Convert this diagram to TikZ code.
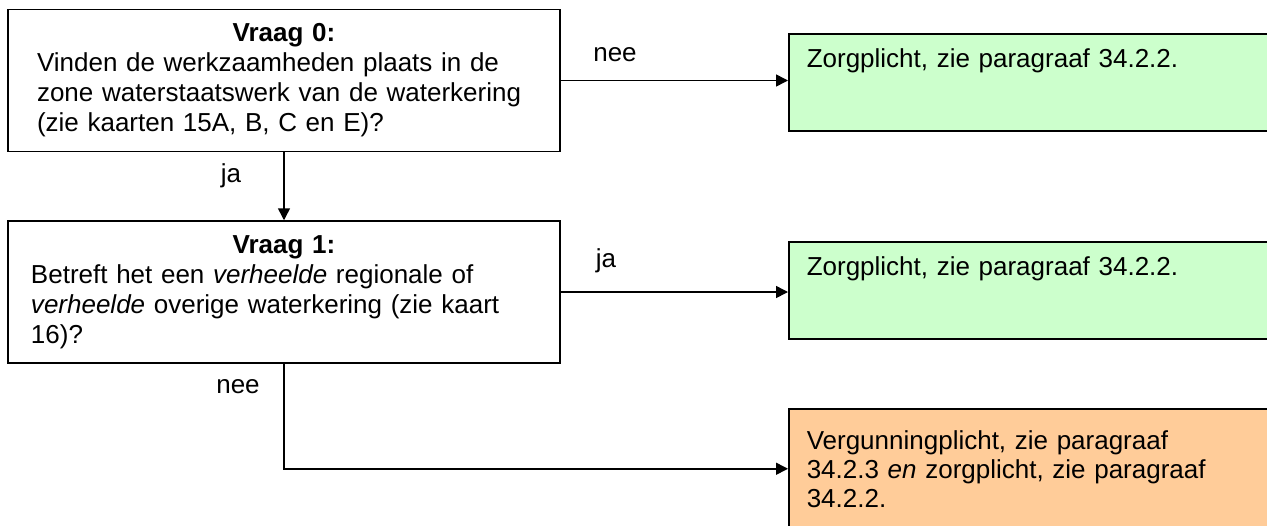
\documentclass[tikz,border=0pt]{standalone}
\usepackage{fontspec}
\setmainfont{Liberation Sans}
\usetikzlibrary{positioning,arrows.meta}
\definecolor{mint}{HTML}{CCFFCC}
\definecolor{peach}{HTML}{FFCC99}
\tikzset{
  vraag/.style={draw,line width=0.75pt,align=left,font=\fontsize{13}{15}\selectfont,
    minimum width=276pt,minimum height=71pt,inner ysep=3pt},
  uitkomst/.style={draw,line width=0.75pt,anchor=north west,align=left,
    font=\fontsize{13}{14.5}\selectfont,text width=223pt,inner xsep=9pt},
  zorg/.style={uitkomst,fill=mint,inner ysep=0pt,text height=16.8pt,text depth=31.7pt},
  pijl/.style={line width=0.75pt,-{Triangle[length=6pt,width=6pt]}},
  keuze/.style={font=\fontsize{13}{15}\selectfont}
}

\begin{document}
\begin{tikzpicture}[x=0.5pt,y=-0.5pt]
        \useasboundingbox (0,0) rectangle (1267,525);
        % vragen
        \node[vraag,text width=247pt,inner xsep=14.5pt] (vraag0) at (284,80.5)
          {\makebox[\linewidth]{\textbf{Vraag 0:}}\\
           Vinden de werkzaamheden plaats in de\\
           zone waterstaatswerk van de waterkering\\
           (zie kaarten 15A, B, C en E)?};
        \node[vraag,text width=253pt,inner xsep=11.5pt] (vraag1) at (284,292)
          {\makebox[\linewidth]{\textbf{Vraag 1:}}\\
           Betreft het een \textit{verheelde} regionale of\\
           \textit{verheelde} overige waterkering (zie kaart\\
           16)?};
        % uitkomsten
        \node[zorg] (zorg0) at (788,33) {Zorgplicht, zie paragraaf 34.2.2.};
        \node[zorg] (zorg1) at (788,241) {Zorgplicht, zie paragraaf 34.2.2.};
        \node[uitkomst,fill=peach,minimum height=60pt] (vergunning) at (788,408)
          {Vergunningplicht, zie paragraaf\\
           34.2.3 \textit{en} zorgplicht, zie paragraaf\\
           34.2.2.};
        % pijlen
        \draw[pijl] (vraag0.east) -- (vraag0.east -| zorg0.west);
        \draw[pijl] (vraag0.south) -- (vraag1.north);
        \draw[pijl] (vraag1.east) -- (vraag1.east -| zorg1.west);
        \draw[pijl] (vraag1.south) |- (vergunning.west);
        \node[keuze] (nee0) at (615,55) {nee};
        \node[keuze] (ja0) at (231,176) {ja};
        \node[keuze] (ja1) at (606,261) {ja};
        \node[keuze] (nee1) at (238,387) {nee};
      \end{tikzpicture}
\end{document}
